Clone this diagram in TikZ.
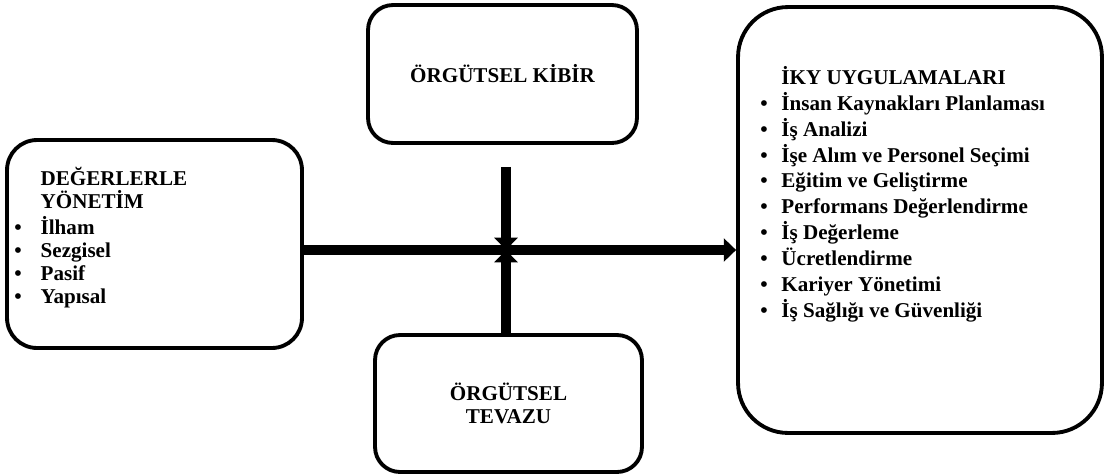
\documentclass[tikz,border=0pt]{standalone}
\usepackage{fontspec}
\setmainfont{Liberation Serif}
\usetikzlibrary{arrows.meta,positioning,calc}
\newcommand{\blt}[2][15pt]{\makebox[#1][l]{\textbullet}#2}

\begin{document}
\begin{tikzpicture}[x=0.02cm,y=-0.02cm,
    kutu/.style={draw,line width=2.2pt,rounded corners=0.5cm,inner sep=0pt,font=\bfseries\fontsize{12}{13}\selectfont},
    yazi/.style={font=\bfseries\fontsize{12}{13}\selectfont,align=left,inner sep=0pt},
    kalin/.style={line width=5.8pt,-{Triangle[length=7pt,width=13pt]}}]
    \useasboundingbox (0,0) rectangle (1105,474);
    % kutular
    \node[kutu,minimum width=5.9cm,minimum height=4.16cm,rounded corners=0.6cm] (deger) at (154.5,244) {};
    \node[kutu,minimum width=5.38cm,minimum height=2.76cm] (kibir) at (502.5,74) {ÖRGÜTSEL KİBİR};
    \node[kutu,minimum width=5.34cm,minimum height=2.74cm,align=center] (tevazu) at (508.5,403.5) {ÖRGÜTSEL\\TEVAZU};
    \node[kutu,minimum width=7.28cm,minimum height=8.52cm,rounded corners=1cm] (iky) at (920,220) {};
    % kutu yazilari (base = son satir)
    \node[yazi,anchor=base west] (degeryazi) at (14,303) {\hspace*{15pt}DEĞERLERLE\\\hspace*{15pt}YÖNETİM\\[2pt]
        \blt{İlham}\\\blt{Sezgisel}\\\blt{Pasif}\\\blt{Yapısal}};
    \node[yazi,font=\bfseries\fontsize{12}{14.7}\selectfont,anchor=base west] (ikyyazi) at (760,317) {\hspace*{12pt}İKY UYGULAMALARI\\
        \blt[12pt]{İnsan Kaynakları Planlaması}\\\blt[12pt]{İş Analizi}\\\blt[12pt]{İşe Alım ve Personel Seçimi}\\
        \blt[12pt]{Eğitim ve Geliştirme}\\\blt[12pt]{Performans Değerlendirme}\\\blt[12pt]{İş Değerleme}\\
        \blt[12pt]{Ücretlendirme}\\\blt[12pt]{Kariyer Yönetimi}\\\blt[12pt]{İş Sağlığı ve Güvenliği}};
    % oklar
    \coordinate (orta) at (506,250);
    \draw[kalin] (deger.east |- orta) -- (iky.west |- orta);
    \draw[kalin,shorten <=0.44cm] (kibir.south -| orta) -- (orta);
    \draw[kalin] (tevazu.north -| orta) -- (orta);
\end{tikzpicture}
\end{document}
